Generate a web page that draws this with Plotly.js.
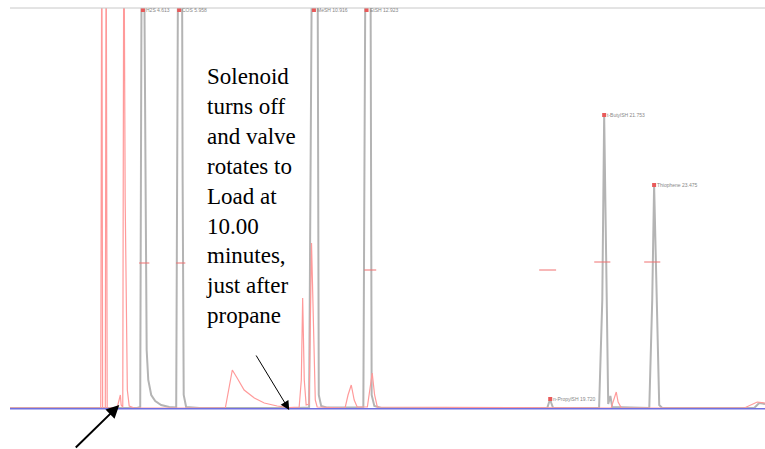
<!DOCTYPE html>
<html>
<head>
<meta charset="utf-8">
<script src="https://cdn.plot.ly/plotly-3.0.1.min.js"></script>
<style>html,body{margin:0;padding:0;background:#fff;}#chart{width:765px;height:449px;}</style>
</head>
<body>
<div id="chart"></div>
<script>
// Chromatogram 1 (grey): retention time (min) and detector signal
const greyTime = [-0.4, 4.34, 4.45, 4.51, 4.58, 4.64, 4.66, 4.69, 4.75, 4.86, 5.01, 5.23, 5.53, 5.79, 5.87, 6.0, 6.03, 6.07, 6.16, 6.65,
  10.30, 10.74, 10.86, 11.05, 11.10, 11.19, 11.42, 12.76, 12.85, 13.02, 13.07, 13.17, 13.43,
  19.61, 19.68, 19.72, 19.76, 19.83, 21.54, 21.66, 21.73, 21.81, 21.88, 21.96, 22.03,
  23.41, 23.52, 23.59, 23.69, 23.78, 23.89, 27.32, 27.5, 27.72];
const greySignal = [0, 0, 0.25, 130, 130, 48, 27, 14.5, 7, 3.25, 1.75, 0.75, 0.25, 0.1, 130, 130, 57, 3.25, 0.25, 0,
  0, 0.1, 130, 130, 3.25, 0.5, 0.1, 0.1, 130, 130, 3.25, 0.5, 0,
  0, 1.5, 2.25, 1.25, 0, 0, 27, 73.25, 27, 1, 3, 0.25,
  0, 27, 55.75, 27, 0.75, 0, 0, 1.25, 1];

// Chromatogram 2 (red)
const redTime = [-0.4, 2.92, 2.98, 3.02, 3.05, 3.15, 3.18, 3.22, 3.59, 3.71, 3.74, 3.80, 3.84, 3.89, 3.93, 3.97, 4.04, 4.23,
  7.62, 7.73, 7.88, 8.06, 8.32, 8.70, 9.07, 9.55, 10.0,
  10.37, 10.45, 10.50, 10.56, 10.63, 10.74, 10.83, 10.91, 10.97, 11.04,
  12.08, 12.19, 12.31, 12.42, 12.53, 12.91, 13.0, 13.09, 13.18, 13.28,
  21.99, 22.11, 22.18, 22.25, 22.37, 26.95, 27.21, 27.43, 27.72];
const redSignal = [0, 0, 0, 130, 0, 0, 130, 0, 0, 3.25, 0.75, 0.25, 130, 52, 19.5, 4.5, 0.5, 0,
  0, 4.5, 9.5, 7.5, 4.5, 2.5, 1.25, 0.5, 0.1,
  0.25, 7, 27.5, 7, 0.75, 1, 41.25, 19.5, 2, 0.25,
  0, 3.25, 5.75, 2, 0.25, 0.25, 4.5, 8.75, 3.25, 0.25,
  0, 2.5, 4, 1.5, 0, 0, 0.75, 1.5, 1.25];

// Identified peaks: names, retention times, apex marker heights
const peakNames = ["H2S 4.613", "COS 5.958", "MeSH 10.916", "EtSH 12.923", "n-PropylSH 19.720", "t-ButylSH 21.753", "Thiophene 23.475"];
const peakTime = [4.55, 5.90, 10.92, 12.88, 19.72, 21.73, 23.59];
const peakMark = [99.5, 99.5, 99.5, 99.5, 2.25, 73.25, 55.75];

// Peak-width marks (start, end, level)
const widthStart = [4.41, 5.79, 12.79, 19.31, 21.36, 23.22];
const widthEnd = [4.79, 6.13, 13.24, 19.94, 21.96, 23.82];
const widthLevel = [36.25, 36.25, 34.5, 34.5, 36.5, 36.5];

const baseTime = [-0.4, 27.72];
const baseSignal = [-0.2, -0.2];

const noteText = "Solenoid<br>turns off<br>and valve<br>rotates to<br>Load at<br>10.00<br>minutes,<br>just after<br>propane";
const valveTime = 10.0;

const wx = [], wy = [];
for (let i = 0; i < widthStart.length; i++) {
  wx.push(widthStart[i], widthEnd[i], null);
  wy.push(widthLevel[i], widthLevel[i], null);
}

const traces = [
  {x: greyTime, y: greySignal, mode: 'lines', line: {color: '#b4b4b4', width: 2}, hoverinfo: 'skip'},
  {x: redTime, y: redSignal, mode: 'lines', line: {color: '#ff9a9a', width: 1.2}, hoverinfo: 'skip'},
  {x: wx, y: wy, mode: 'lines', line: {color: '#f07070', width: 1}, hoverinfo: 'skip'},
  {x: baseTime, y: baseSignal, mode: 'lines', line: {color: '#7070e0', width: 1.5}, hoverinfo: 'skip'},
  {x: peakTime, y: peakMark, mode: 'markers', marker: {color: '#e85a5a', size: 4, symbol: 'square'}, hoverinfo: 'skip', cliponaxis: false}
];

const annotations = peakNames.map((n, i) => ({
  x: peakTime[i], y: peakMark[i], xref: 'x', yref: 'y', text: n, showarrow: false,
  xanchor: 'left', yanchor: 'middle', xshift: 1,
  font: {family: '"Liberation Sans", Arial, sans-serif', size: 5, color: '#888'}
}));

annotations.push({
  x: 6.84, y: 86.5, xref: 'x', yref: 'y', text: noteText, showarrow: false,
  xanchor: 'left', yanchor: 'top', align: 'left',
  font: {family: '"Liberation Serif", "Times New Roman", Times, serif', size: 23, color: '#000'}
});
annotations.push({
  x: valveTime, y: -0.5, xref: 'x', yref: 'y', text: '', showarrow: true,
  ax: -34, ay: -56, arrowhead: 2, arrowsize: 1.8, arrowwidth: 1, arrowcolor: '#000', standoff: 0
});
annotations.push({
  x: 3.67, y: 0.75, xref: 'x', yref: 'y', text: '', showarrow: true,
  ax: -45, ay: 46, arrowhead: 2, arrowsize: 1.3, arrowwidth: 2, arrowcolor: '#000', standoff: 0
});

const layout = {
  width: 765, height: 449,
  margin: {l: 10, r: 0, t: 8, b: 37},
  paper_bgcolor: '#fff', plot_bgcolor: '#fff',
  showlegend: false,
  xaxis: {range: [-0.4, 27.72], visible: false, fixedrange: true},
  yaxis: {range: [-1, 100], visible: false, fixedrange: true},
  shapes: [{type: 'line', xref: 'paper', yref: 'paper', x0: 0, x1: 1, y0: 1, y1: 1, line: {color: '#c8c8c8', width: 1}}],
  annotations: annotations
};

Plotly.newPlot('chart', traces, layout, {displayModeBar: false, staticPlot: true});
</script>
</body>
</html>
